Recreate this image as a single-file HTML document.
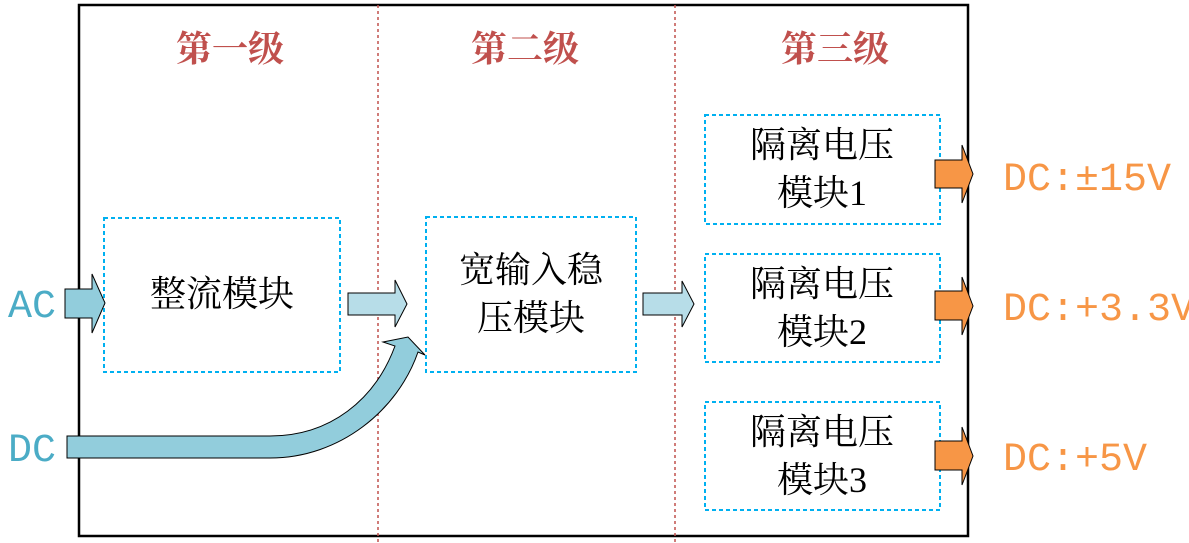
<!DOCTYPE html>
<html><head><meta charset="utf-8"><style>
body{margin:0;background:#fff;}
svg{display:block;}
.t{font-family:"Liberation Serif","Noto Serif CJK SC",serif;font-size:36px;fill:#000;text-anchor:middle;}
.h{font-family:"Liberation Serif","Noto Serif CJK SC",serif;font-size:36px;fill:#c0504d;text-anchor:middle;font-weight:bold;}
.o{font-family:"Liberation Mono","Noto Serif CJK SC",monospace;font-size:40px;fill:#f79646;}
.b{font-family:"Liberation Mono",monospace;font-size:40px;fill:#4bacc6;}
</style></head><body>
<svg width="1189" height="543" viewBox="0 0 1189 543">
<rect x="79" y="5" width="889" height="531" fill="none" stroke="#000" stroke-width="2.5"/>
<line x1="378" y1="5" x2="378" y2="543" stroke="#c0504d" stroke-width="1.5" stroke-dasharray="3,3"/>
<line x1="675" y1="5" x2="675" y2="543" stroke="#c0504d" stroke-width="1.5" stroke-dasharray="3,3"/>
<text class="h" x="230" y="61">第一级</text>
<text class="h" x="525" y="61">第二级</text>
<text class="h" x="835" y="61">第三级</text>
<g fill="none" stroke="#00b0f0" stroke-width="2" stroke-dasharray="4,3">
<rect x="104" y="218" width="236" height="154"/>
<rect x="426" y="217" width="210" height="155"/>
<rect x="705" y="115" width="235" height="109"/>
<rect x="705" y="254" width="235" height="108"/>
<rect x="705" y="402" width="235" height="108"/>
</g>
<text class="t" x="222" y="306">整流模块</text>
<text class="t" x="531" y="282">宽输入稳</text>
<text class="t" x="531" y="330">压模块</text>
<text class="t" x="822" y="157">隔离电压</text>
<text class="t" x="822" y="205">模块1</text>
<text class="t" x="822" y="296">隔离电压</text>
<text class="t" x="822" y="344">模块2</text>
<text class="t" x="822" y="444">隔离电压</text>
<text class="t" x="822" y="492">模块3</text>
<g stroke="#000" stroke-width="1">
<path d="M65,289 L92,289 L92,274 L105,303 L92,333 L92,318 L65,318 Z" fill="#92cddc"/>
<path d="M348,293 L395,293 L395,280 L407,304 L395,327 L395,315 L348,315 Z" fill="#b7dde8"/>
<path d="M643,293 L682,293 L682,281 L694,304 L682,327 L682,315 L643,315 Z" fill="#b7dde8"/>
<path d="M67,436 L270,436 C330,436 375,400 395,346 L383,342 L408,337 L425,355 L418,352 C398,410 340,458 270,458 L67,458 Z" fill="#92cddc"/>
<path d="M935,160 L962,160 L962,145 L973,174 L962,203 L962,188 L935,188 Z" fill="#f79646"/>
<path d="M935,291 L962,291 L962,277 L973,306 L962,335 L962,320 L935,320 Z" fill="#f79646"/>
<path d="M935,441 L962,441 L962,427 L973,456 L962,485 L962,470 L935,470 Z" fill="#f79646"/>
</g>
<text class="b" x="8" y="317">AC</text>
<text class="b" x="8" y="461">DC</text>
<text class="o" x="1003" y="190">DC:±15V</text>
<text class="o" x="1003" y="320">DC:+3.3V</text>
<text class="o" x="1003" y="470">DC:+5V</text>
</svg>
</body></html>
